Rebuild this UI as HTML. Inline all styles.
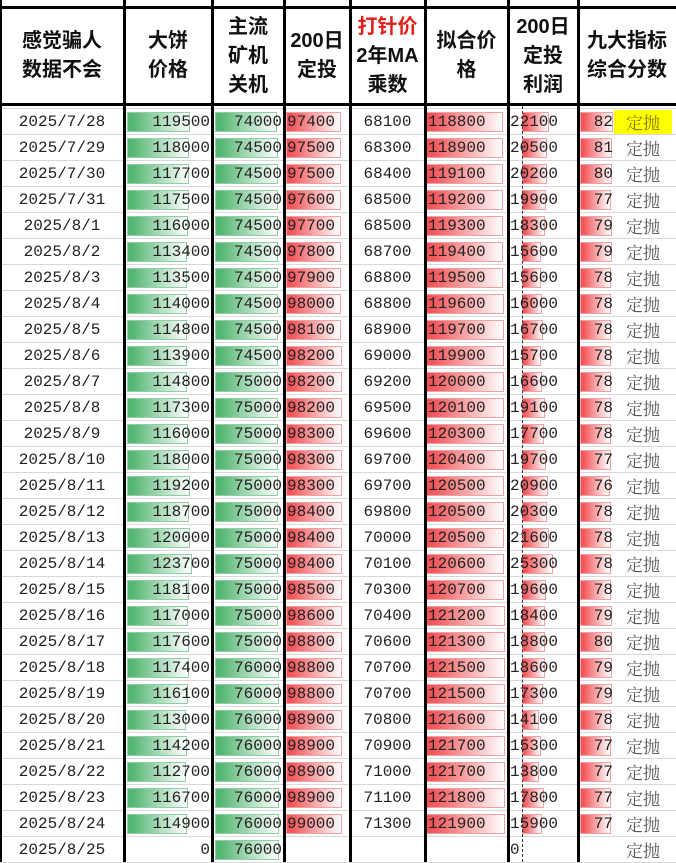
<!DOCTYPE html>
<html><head><meta charset="utf-8">
<style>
body{margin:0;width:676px;height:862px;overflow:hidden;background:#fff;position:relative;font-family:"Liberation Mono","Noto Sans CJK SC",monospace}
.a{position:absolute}
.h{position:absolute;font-family:"Liberation Sans","Noto Sans CJK SC",sans-serif;font-weight:bold;font-size:20px;line-height:29px;text-align:center;color:#111}
.t{position:absolute;font-size:16px;line-height:26px;color:#222;white-space:nowrap}
</style></head><body>
<div id="root"></div>
<script>
const dates=["2025/7/28","2025/7/29","2025/7/30","2025/7/31","2025/8/1","2025/8/2","2025/8/3","2025/8/4","2025/8/5","2025/8/6","2025/8/7","2025/8/8","2025/8/9","2025/8/10","2025/8/11","2025/8/12","2025/8/13","2025/8/14","2025/8/15","2025/8/16","2025/8/17","2025/8/18","2025/8/19","2025/8/20","2025/8/21","2025/8/22","2025/8/23","2025/8/24","2025/8/25"];
const btc=[119500,118000,117700,117500,116000,113400,113500,114000,114800,113900,114800,117300,116000,118000,119200,118700,120000,123700,118100,117000,117600,117400,116100,113000,114200,112700,116700,114900,0];
const miner=[74000,74500,74500,74500,74500,74500,74500,74500,74500,74500,75000,75000,75000,75000,75000,75000,75000,75000,75000,75000,75000,76000,76000,76000,76000,76000,76000,76000,76000];
const dca=[97400,97500,97500,97600,97700,97800,97900,98000,98100,98200,98200,98200,98300,98300,98300,98400,98400,98400,98500,98600,98800,98800,98800,98900,98900,98900,98900,99000,null];
const ma=[68100,68300,68400,68500,68500,68700,68800,68800,68900,69000,69200,69500,69600,69700,69700,69800,70000,70100,70300,70400,70600,70700,70700,70800,70900,71000,71100,71300,null];
const fit=[118800,118900,119100,119200,119300,119400,119500,119600,119700,119900,120000,120100,120300,120400,120500,120500,120500,120600,120700,121200,121300,121500,121500,121600,121700,121700,121800,121900,null];
const profit=[22100,20500,20200,19900,18300,15600,15600,16000,16700,15700,16600,19100,17700,19700,20900,20300,21600,25300,19600,18400,18800,18600,17300,14100,15300,13800,17800,15900,0];
const score=[82,81,80,77,79,79,78,78,78,78,78,78,78,77,76,78,78,78,78,79,80,79,79,78,77,77,77,77,null];
const signal=dates.map(()=> "定抛");

const root=document.getElementById('root');
const edges=[0,124,212,284,350,425,508,578,676];
const Y0=109,RH=26,HT=8,HB=106;
function div(cls,x,y,w,h,style,txt){const d=document.createElement('div');d.className=cls;d.style.left=x+'px';d.style.top=y+'px';if(w!=null)d.style.width=w+'px';if(h!=null)d.style.height=h+'px';if(style)d.style.cssText+=style;if(txt!=null)d.textContent=txt;root.appendChild(d);return d;}
const heads=[["感觉骗人","数据不会"],["大饼","价格"],["主流","矿机","关机"],["200日","定投"],["打针价","2年MA","乘数"],["拟合价","格"],["200日","定投","利润"],["九大指标","综合分数"]];
heads.forEach((lines,i)=>{const x=edges[i],w=edges[i+1]-x;const h=div('h',x,HT+(96-lines.length*29)/2,w,null,'',null);


lines.forEach((l,j)=>{const s=document.createElement('div');s.textContent=l;if(i==4&&j==0)s.style.color='#e0201a';h.appendChild(s);});});
for(let r=0;r<=29;r++){const g=div('a',0,Y0+r*RH-1,676,1,'background:#d8d8d8');}
function bar(x,y,w,col){const b=div('a',x,y+3,Math.max(0,w),RH-6,`background:linear-gradient(to right,${col[0]},${col[0]} 8%,#fff);border:1px solid ${col[1]};box-sizing:border-box`);return b;}
const G=['#55b673','#8fd0a2'],R=['#f2565a','#f2a0a2'];
const xs={btc:v=>v/123700*65,miner:v=>v/76000*64,dca:v=>v/99000*56,fit:v=>v/121900*79,profit:v=>v*0.00123,score:v=>v*0.4};
dates.forEach((d,r)=>{const y=Y0+r*RH;
 let e=div('t',0,y,124,RH,'text-align:center',d);
 if(btc[r]>0){e=bar(127,y,xs.btc(btc[r]),G);}
 e=div('t',124,y,86,RH,'text-align:right',btc[r]);
 e=bar(215,y,xs.miner(miner[r]),G);
 e=div('t',212,y,70,RH,'text-align:right',miner[r]);
 if(dca[r]!=null){e=bar(286,y,xs.dca(dca[r]),R);
  e=div('t',287,y,62,RH,'',dca[r]);}
 if(ma[r]!=null){e=div('t',350,y,75,RH,'text-align:center',ma[r]);}
 if(fit[r]!=null){e=bar(426,y,xs.fit(fit[r]),R);
  e=div('t',428,y,78,RH,'',fit[r]);}
 if(profit[r]>0){e=bar(522,y,xs.profit(profit[r]),R);}
 e=div('t',510,y,66,RH,'',profit[r]);
 if(score[r]!=null){e=bar(580,y,xs.score(score[r]),R);
  e=div('t',578,y,35,RH,'text-align:right',score[r]);}
 e=div('t',614,y+1,58,RH-2,'text-align:center;line-height:24px;color:#555;font-family:\"Noto Serif CJK SC\",serif;font-size:17px'+(r==0?';background:#ffff00;color:#8a7a00':''),signal[r]);
 
});
let ax=div('a',522,HB,0,862-HB,'border-left:1px dashed #333');
edges.forEach((x,i)=>{if(i==edges.length-1)return;const v=div('a',x-1,0,3,862,'background:#000');});
let hb=div('a',0,HT-2,676,3,'background:#000');
hb=div('a',0,HB-3,676,3,'background:#000');
</script>
</body></html>
